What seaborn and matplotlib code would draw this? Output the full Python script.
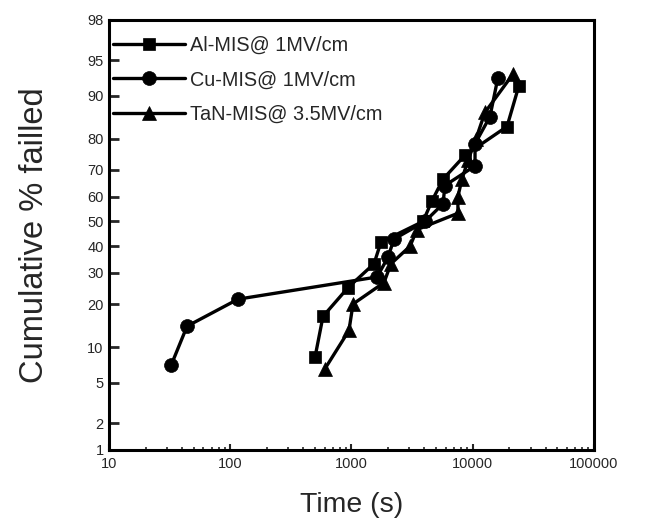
import numpy as np
import pandas as pd
import matplotlib
matplotlib.use("Agg")
import matplotlib.pyplot as plt
import seaborn as sns
from statistics import NormalDist

# ---- data ----
al_time = [500, 582, 936, 1534, 1750, 3890, 4615, 5690, 8630, 19190, 24050]
al_pct = [8.33, 16.67, 25.0, 33.33, 41.67, 50.0, 58.33, 66.67, 75.0, 83.33, 91.67]

cu_time = [32.5, 44, 116, 1622, 2000, 2240, 4040, 5690, 5900, 10450, 10450, 13870, 16150]
cu_pct = [7.14, 14.29, 21.43, 28.57, 35.71, 42.86, 50.0, 57.14, 64.29, 71.43, 78.57, 85.71, 92.86]

tan_time = [604, 953, 1029, 1853, 2117, 3037, 3467, 7550, 7550, 8150, 9140, 10640, 12620, 21480]
tan_pct = [6.67, 13.33, 20.0, 26.67, 33.33, 40.0, 46.67, 53.33, 60.0, 66.67, 73.33, 80.0, 86.67, 93.33]

labels = ["Al-MIS@ 1MV/cm", "Cu-MIS@ 1MV/cm", "TaN-MIS@ 3.5MV/cm"]
y_ticks = [1, 2, 5, 10, 20, 30, 40, 50, 60, 70, 80, 90, 95, 98]
x_ticks = [10, 100, 1000, 10000, 100000]

# ---- normal probability scale ----
_nd = NormalDist()
_ppf = np.vectorize(lambda p: _nd.inv_cdf(min(max(p / 100.0, 1e-12), 1 - 1e-12)),
                    otypes=[float])
_cdf = np.vectorize(lambda z: 100.0 * _nd.cdf(z), otypes=[float])


def fwd(y):
    return _ppf(np.asarray(y, dtype=float))


def inv(z):
    return _cdf(np.asarray(z, dtype=float))


sns.set_theme(style="white")
plt.rcParams["font.family"] = ["Liberation Sans", "DejaVu Sans"]

fig = plt.figure(figsize=(6.57, 5.23), dpi=100)
ax = fig.add_axes([0.166, 0.140, 0.738, 0.822])

series = [
    (al_time, al_pct, "s", 8.5, labels[0]),
    (cu_time, cu_pct, "o", 10, labels[1]),
    (tan_time, tan_pct, "^", 10.5, labels[2]),
]
for t, p, m, ms, lab in series:
    df = pd.DataFrame({"t": t, "p": p})
    sns.lineplot(data=df, x="t", y="p", ax=ax, sort=False, estimator=None,
                 color="black", linewidth=2.4, marker=m, markersize=ms,
                 markeredgecolor="black", markeredgewidth=0.5, label=lab)

ax.set_xscale("log")
ax.set_yscale("function", functions=(fwd, inv))
ax.set_xlim(10, 100000)
ax.set_ylim(1, 98)

ax.set_xticks(x_ticks)
ax.set_xticklabels([str(v) for v in x_ticks])
ax.xaxis.set_minor_locator(matplotlib.ticker.LogLocator(base=10, subs=np.arange(2, 10)))
ax.xaxis.set_minor_formatter(matplotlib.ticker.NullFormatter())
ax.set_yticks(y_ticks)
ax.set_yticklabels([str(v) for v in y_ticks])
ax.yaxis.set_minor_locator(matplotlib.ticker.NullLocator())

ax.tick_params(axis="y", which="major", direction="in", length=7, width=2,
               labelsize=10.5, pad=4, left=True)
ax.tick_params(axis="x", which="major", direction="in", length=4, width=1.5,
               labelsize=10.5, pad=5, bottom=True)
ax.tick_params(axis="x", which="minor", direction="in", length=2.5, width=1.2, bottom=True)

for s in ax.spines.values():
    s.set_linewidth(2.2)
    s.set_color("black")

ax.set_xlabel("Time (s)", fontsize=20.5, labelpad=15)
ax.set_ylabel("Cumulative % failled", fontsize=23.5, labelpad=27)

leg = ax.legend(loc="upper left", bbox_to_anchor=(0.0, 0.972), frameon=False,
                fontsize=14.3, handlelength=3.6, handletextpad=0.3,
                labelspacing=0.78, borderaxespad=0.0, borderpad=0.2)

fig.savefig("out.png", dpi=100, facecolor="white")
